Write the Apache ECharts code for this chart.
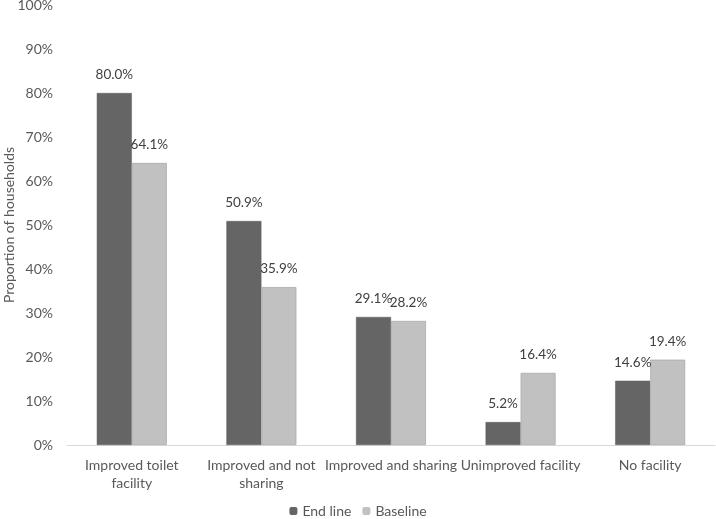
<!DOCTYPE html>
<html><head><meta charset="utf-8">
<script src="https://cdn.jsdelivr.net/npm/echarts@6/dist/echarts.min.js"></script>
<style>html,body{margin:0;padding:0;background:#fff}#c{width:716px;height:519px}</style>
</head><body><div id="c"></div>
<script>
var categories = ["Improved toilet\nfacility", "Improved and not\nsharing", "Improved and sharing", "Unimproved facility", "No facility"];
var endLine = [80.0, 50.9, 29.1, 5.2, 14.6];
var baseline = [64.1, 35.9, 28.2, 16.4, 19.4];
var seriesNames = ["End line", "Baseline"];
var yTicks = [0, 10, 20, 30, 40, 50, 60, 70, 80, 90, 100];

var font = "Lato, 'Open Sans', sans-serif";
var chart = echarts.init(document.getElementById('c'), null, {renderer: 'canvas'});
var lbl = {show: true, position: 'top', distance: 11, color: '#404040', fontSize: 13.5, fontFamily: font,
  formatter: function (p) { return p.value.toFixed(1) + '%'; }};
chart.setOption({
  animation: false,
  grid: {left: 67, right: 1, top: 5, bottom: 74, containLabel: false, outerBoundsMode: 'none'},
  legend: {
    top: 499, left: 'center', itemWidth: 8, itemHeight: 8, itemGap: 11, itemStyle: {borderWidth: 0},
    textStyle: {color: '#595959', fontSize: 14, fontFamily: font},
    data: seriesNames
  },
  xAxis: {
    type: 'category', data: categories,
    axisLine: {lineStyle: {color: '#d9d9d9', width: 1}},
    axisTick: {show: false},
    axisLabel: {color: '#595959', fontSize: 14, fontFamily: font, interval: 0, margin: 11, lineHeight: 18}
  },
  yAxis: {
    type: 'value', min: 0, max: 100, interval: 10,
    name: 'Proportion of households', nameLocation: 'middle', nameGap: 51, nameRotate: 90,
    nameMoveOverlap: false,
    nameTextStyle: {color: '#595959', fontSize: 14, fontFamily: font},
    splitLine: {show: false},
    axisLine: {show: false}, axisTick: {show: false},
    axisLabel: {color: '#595959', fontSize: 14, fontFamily: font, margin: 14,
      formatter: function (v) { return yTicks.indexOf(v) >= 0 ? v + '%' : ''; }}
  },
  series: [
    {name: seriesNames[0], type: 'bar', data: endLine, barGap: '0%', barCategoryGap: '46%',
     itemStyle: {color: '#656565', borderColor: '#5a5a5a', borderWidth: 0.5}, label: lbl},
    {name: seriesNames[1], type: 'bar', data: baseline, barGap: '0%', barCategoryGap: '46%',
     itemStyle: {color: '#c1c1c1', borderColor: '#a9a9a9', borderWidth: 0.8}, label: lbl}
  ]
});
</script></body></html>
